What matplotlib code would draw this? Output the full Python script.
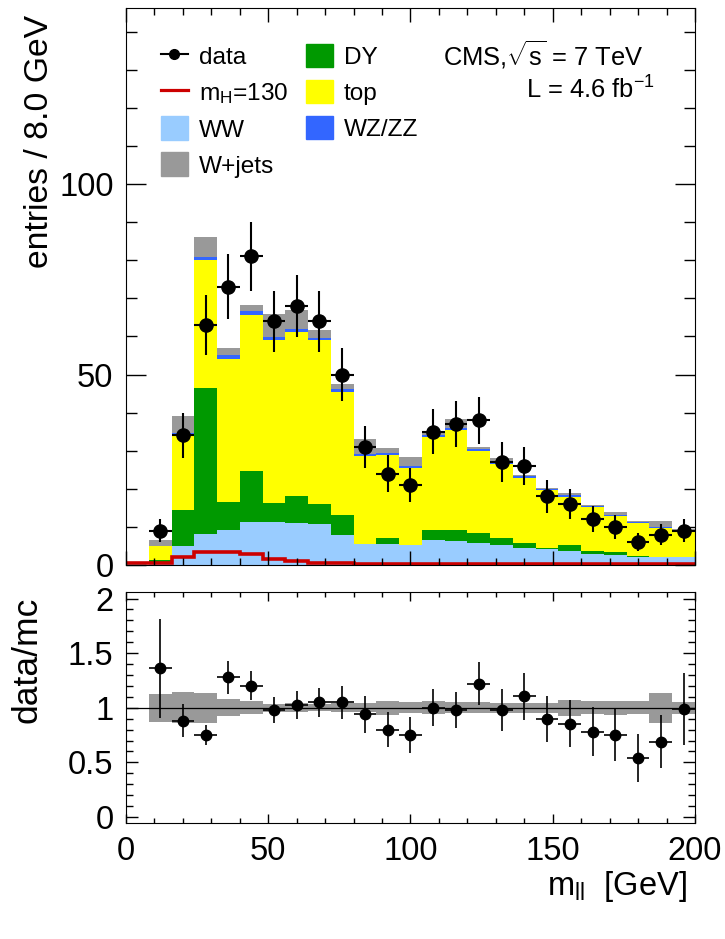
import numpy as np
import matplotlib
matplotlib.use('Agg')
import matplotlib.pyplot as plt
from matplotlib.lines import Line2D
from matplotlib.patches import Patch
from matplotlib.ticker import MultipleLocator

plt.rcParams['font.family'] = ['Liberation Sans', 'DejaVu Sans']
plt.rcParams['mathtext.fontset'] = 'custom'
plt.rcParams['mathtext.rm'] = 'Liberation Sans'
plt.rcParams['mathtext.it'] = 'Liberation Sans:italic'

# 25 bins of 8 GeV from 0 to 200
edges = np.arange(0, 201, 8)

# background yields per bin, stacked bottom -> top
ww = [0, 0.8, 5.1, 8.2, 9.1, 11.3, 11.3, 11.0, 10.8, 8.0, 5.6, 5.6, 5.2,
      6.6, 6.3, 5.9, 5.2, 4.5, 4.2, 3.8, 2.95, 2.5, 2.0, 2.0, 2.0]
dy = [0, 0.5, 9.3, 38.3, 7.5, 13.4, 5.0, 7.1, 5.2, 5.1, 0, 1.4, 0,
      2.5, 2.8, 2.6, 1.8, 1.2, 0.3, 1.5, 0.65, 0.9, 0.3, 0, 0]
top = [0, 3.6, 19.6, 33.6, 37.5, 41.0, 42.8, 43.1, 43.0, 32.4, 23.0, 22.0, 20.3,
       24.5, 26.4, 21.5, 19.4, 17.2, 15.2, 12.6, 11.5, 9.4, 8.6, 7.7, 7.0]
wzzz = [0, 0.1, 0.6, 0.7, 0.9, 0.9, 0.8, 0.7, 0.7, 0.7, 0.6, 0.5, 0.5,
        0.5, 0.5, 0.4, 0.5, 0.4, 0.3, 0.4, 0.3, 0.3, 0.3, 0.3, 0.3]
wjets = [0, 1.6, 4.4, 5.3, 1.9, 1.7, 5.9, 5.0, 1.9, 1.4, 3.8, 1.1, 2.4,
         0.7, 2.3, 0.7, 1.1, 0.3, 0.3, 0.7, 0.3, 0.7, 0.3, 1.6, 0.2]
# higgs signal, not stacked
mh130 = [0.5, 0.5, 2.2, 3.5, 3.5, 2.9, 1.6, 1.05, 0.5, 0.4, 0.3, 0.3, 0.3,
         0.3, 0.3, 0.25, 0.25, 0.2, 0.2, 0.2, 0.2, 0.2, 0.2, 0.2, 0.2]

# data, bins 8..200
data = [9, 34, 63, 73, 81, 64, 68, 64, 50, 31, 24, 21, 35, 37, 38, 27,
        26, 18, 16, 12, 10, 6, 8, 9]
ratio = [1.36, 0.88, 0.75, 1.28, 1.20, 0.98, 1.025, 1.05, 1.05, 0.94, 0.80, 0.75,
         1.0, 0.98, 1.22, 0.98, 1.105, 0.90, 0.855, 0.78, 0.75, 0.54, 0.69, 0.99]
# relative mc stat. uncertainty, bins 8..200
mc_err = [0.13, 0.14, 0.135, 0.078, 0.061, 0.035, 0.04, 0.034, 0.04, 0.04, 0.063, 0.052,
          0.061, 0.052, 0.05, 0.046, 0.044, 0.046, 0.073, 0.058, 0.064, 0.058, 0.135, 0.053]

colors = {'WW': '#99ccff', 'DY': '#009900', 'top': '#ffff00',
          'WZ/ZZ': '#3366ff', 'W+jets': '#999999'}

fig = plt.figure(figsize=(7.25, 9.39), dpi=100)
W, H = 725., 939.
ax = fig.add_axes([126/W, 1-565/H, 569/W, 557/H])
ax2 = fig.add_axes([126/W, 1-823/H, 569/W, 231/H])

centers = edges[:-1] + 4
dcent = centers[1:]

# stacked backgrounds
base = np.zeros(len(ww))
for name, vals in [('WW', ww), ('DY', dy), ('top', top), ('WZ/ZZ', wzzz), ('W+jets', wjets)]:
    vals = np.array(vals)
    ax.stairs(base + vals, edges, baseline=base, fill=True, color=colors[name], lw=0)
    base = base + vals

ax.stairs(mh130, edges, color='#cc0000', lw=2.6, baseline=None)

ax.errorbar(dcent, data, yerr=np.sqrt(data), xerr=4, fmt='o', color='k',
            ms=9.5, elinewidth=1.5, capsize=0)

ax.set_xlim(0, 200)
ax.set_ylim(0, 146.2)
ax.xaxis.set_major_locator(MultipleLocator(50))
ax.xaxis.set_minor_locator(MultipleLocator(10))
ax.yaxis.set_major_locator(MultipleLocator(50))
ax.yaxis.set_minor_locator(MultipleLocator(10))
ax.tick_params(which='both', direction='in', top=True, right=True, labelbottom=False,
               labelsize=23.5, width=1, pad=9)
ax.tick_params(axis='y', which='major', length=14.4)
ax.tick_params(axis='y', which='minor', length=7.7)
ax.tick_params(axis='x', which='major', length=10)
ax.tick_params(axis='x', which='minor', length=4.8)

# legend
handles = [Line2D([], [], color='k', marker='o', ms=7, lw=1.5),
           Line2D([], [], color='#cc0000', lw=2.3),
           Patch(color=colors['WW']), Patch(color=colors['W+jets']),
           Patch(color=colors['DY']), Patch(color=colors['top']),
           Patch(color=colors['WZ/ZZ'])]
labels = ['data', r'm$_{\mathrm{H}}$=130', 'WW', 'W+jets', 'DY', 'top', 'WZ/ZZ']
ax.legend(handles, labels, ncol=2, loc='upper left', bbox_to_anchor=(0.061, 0.936),
          frameon=False, fontsize=17.6, handlelength=1.12, handleheight=1.12,
          handletextpad=0.45, labelspacing=0.44, columnspacing=0.7,
          borderpad=0, borderaxespad=0)

ax.text(0.909, 0.916, r'CMS,$\sqrt{\mathrm{s}}$ = 7 TeV', transform=ax.transAxes,
        ha='right', va='center', fontsize=18.4)
ax.text(0.929, 0.853, r'L = 4.6 fb$^{-1}$', transform=ax.transAxes,
        ha='right', va='center', fontsize=18.4)

# ratio panel
ax2.stairs(1 + np.array(mc_err), edges[1:], baseline=1 - np.array(mc_err),
           fill=True, color='#999999', lw=0)
ax2.axhline(1, color='k', lw=0.9)
ratio_err = np.array(ratio) / np.sqrt(data)
ax2.errorbar(dcent, ratio, yerr=ratio_err, xerr=4, fmt='o', color='k',
             ms=7.5, elinewidth=1.2, capsize=0)
ax2.set_xlim(0, 200)
ax2.set_ylim(-0.055, 2.06)
ax2.xaxis.set_major_locator(MultipleLocator(50))
ax2.xaxis.set_minor_locator(MultipleLocator(10))
ax2.yaxis.set_major_locator(MultipleLocator(0.5))
ax2.yaxis.set_minor_locator(MultipleLocator(0.1))
ax2.yaxis.set_major_formatter(plt.FuncFormatter(lambda v, p: ('%g' % v)))
ax2.tick_params(which='both', direction='in', top=True, right=True,
                labelsize=23.5, width=1, pad=9)
ax2.tick_params(axis='y', which='major', length=8.6)
ax2.tick_params(axis='y', which='minor', length=5)
ax2.tick_params(axis='x', which='major', length=6.5)
ax2.tick_params(axis='x', which='minor', length=3.6)

fig.text(40/W, 1-15/H, 'entries / 8.0 GeV', rotation=90, ha='center', va='top', fontsize=24.3)
fig.text(27/W, 1-597/H, 'data/mc', rotation=90, ha='center', va='top', fontsize=25.5)
fig.text(687/W, 1-895/H, r'm$_{\mathrm{ll}}$  [GeV]', ha='right', va='baseline', fontsize=23.5)

fig.savefig('out.png', dpi=100)
